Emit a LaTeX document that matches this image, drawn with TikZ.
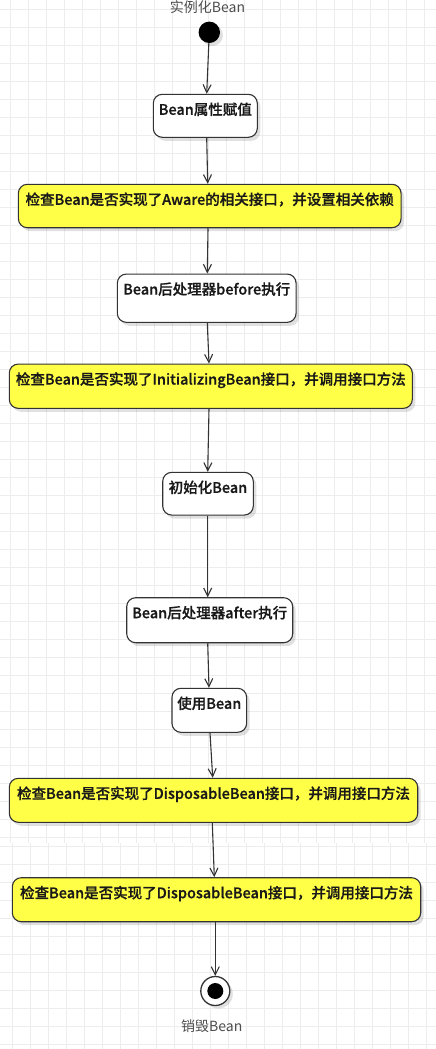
\documentclass[tikz,border=0pt]{standalone}
\usepackage{fontspec}
\setmainfont{Noto Sans CJK SC}[BoldFont={Noto Sans CJK SC Medium}, BoldFeatures={FakeBold=0.7}]
\usetikzlibrary{arrows.meta,shadows}

\definecolor{linegray}{HTML}{333333}
\definecolor{labelgray}{HTML}{4D4D4D}
\definecolor{gridgray}{HTML}{EDEDED}
\definecolor{stepyellow}{HTML}{FFFF47}

\tikzset{
  gridline/.style={draw=gridgray, line width=1pt},
  stepbox/.style={draw=linegray, line width=1.1pt, fill=white, rounded corners=9pt,
    inner sep=0pt, text height=20.5pt, text=black!90,
    font=\bfseries\fontsize{14.5}{16}\selectfont,
    drop shadow={shadow xshift=3pt, shadow yshift=-3.5pt, fill=black, opacity=0.12}},
  checkbox/.style={stepbox, fill=stepyellow},
  flow/.style={draw=linegray, line width=1.1pt, -{Straight Barb[length=8pt,width=8pt]}},
  caption/.style={text=labelgray, font=\fontsize{14}{16}\selectfont, inner sep=0pt}
}

\begin{document}
\begin{tikzpicture}[x=1pt, y=-1pt]
  % canvas and background grid
  \useasboundingbox (0,0) rectangle (436,1049);
  \fill[white] (0,0) rectangle (436,1049);
  \begin{scope}
    \clip (0,0) rectangle (436,843);
    \foreach \i in {0,...,24} \draw[gridline] ({10+18*\i},0) -- ({10+18*\i},843);
    \foreach \j in {0,...,46} \draw[gridline] (0,{9.3+18*\j}) -- (436,{9.3+18*\j});
  \end{scope}
  \begin{scope}
    \clip (0,843) rectangle (436,1049);
    \foreach \i in {0,...,23} \draw[gridline] ({12.7+18*\i},843) -- ({12.7+18*\i},1049);
    \foreach \j in {47,...,58} \draw[gridline] (0,{0.7+18*\j}) -- (436,{0.7+18*\j});
  \end{scope}

  % initial state
  \node[caption] (startlabel) at (207.5,7) {实例化Bean};
  \node[circle, fill=black, minimum size=21.4pt, inner sep=0pt,
        drop shadow={shadow xshift=3pt, shadow yshift=-3pt, fill=black, opacity=0.12}]
        (start) at (209.3,32.3) {};

  % activity steps
  \node[stepbox,  minimum width=104pt,   text depth=22.5pt] (b1) at (205.3,115.8) {Bean属性赋值};
  \node[checkbox, minimum width=382.7pt, text depth=22.9pt] (b2) at (209.7,206)   {检查Bean是否实现了Aware的相关接口，并设置相关依赖};
  \node[stepbox,  minimum width=178.7pt, text depth=27.8pt] (b3) at (206.7,298.2) {Bean后处理器before执行};
  \node[checkbox, minimum width=403pt,   text depth=23.8pt] (b4) at (210.8,386.2) {检查Bean是否实现了InitializingBean接口，并调用接口方法};
  \node[stepbox,  minimum width=90.6pt,  text depth=22.2pt] (b5) at (208,493.7)   {初始化Bean};
  \node[stepbox,  minimum width=166pt,   text depth=24.5pt] (b6) at (209.7,620.2) {Bean后处理器after执行};
  \node[stepbox,  minimum width=74.7pt,  text depth=23.5pt] (b7) at (209.3,710.3) {使用Bean};
  \node[checkbox, minimum width=408.4pt, text depth=23.5pt] (b8) at (213.5,800.3) {检查Bean是否实现了DisposableBean接口，并调用接口方法};
  \node[checkbox, minimum width=408.4pt, text depth=23.5pt] (b9) at (216.5,899.7) {检查Bean是否实现了DisposableBean接口，并调用接口方法};

  % final state
  \node[circle, draw=linegray, line width=1.3pt, fill=white, minimum size=29pt, inner sep=0pt,
        drop shadow={shadow xshift=3pt, shadow yshift=-3pt, fill=black, opacity=0.12}]
        (end) at (215.3,991) {};
  \node[circle, fill=black, minimum size=16pt, inner sep=0pt] (enddot) at (end.center) {};
  \node[caption] (endlabel) at (211.7,1025.7) {销毁Bean};

  % transitions
  \draw[flow] (start) -- ([xshift=1.4pt]b1.north);
  \draw[flow] ([xshift=1.4pt]b1.south) -- ([xshift=-2pt]b2.north);
  \draw[flow] ([xshift=-1.7pt]b2.south) -- ([xshift=0.6pt]b3.north);
  \draw[flow] ([xshift=0.6pt]b3.south) -- ([xshift=-1.8pt]b4.north);
  \draw[flow] ([xshift=-1.8pt]b4.south) -- ([xshift=-0.3pt]b5.north);
  \draw[flow] ([xshift=-0.3pt]b5.south) -- ([xshift=-2pt]b6.north);
  \draw[flow] ([xshift=-2pt]b6.south) -- ([xshift=-0.3pt]b7.north);
  \draw[flow] ([xshift=0.7pt]b7.south) -- ([xshift=-0.8pt]b8.north);
  \draw[flow] ([xshift=-1.2pt]b8.south) -- ([xshift=-2.2pt]b9.north);
  \draw[flow] ([xshift=-1.2pt]b9.south) -- (end);
\end{tikzpicture}
\end{document}
